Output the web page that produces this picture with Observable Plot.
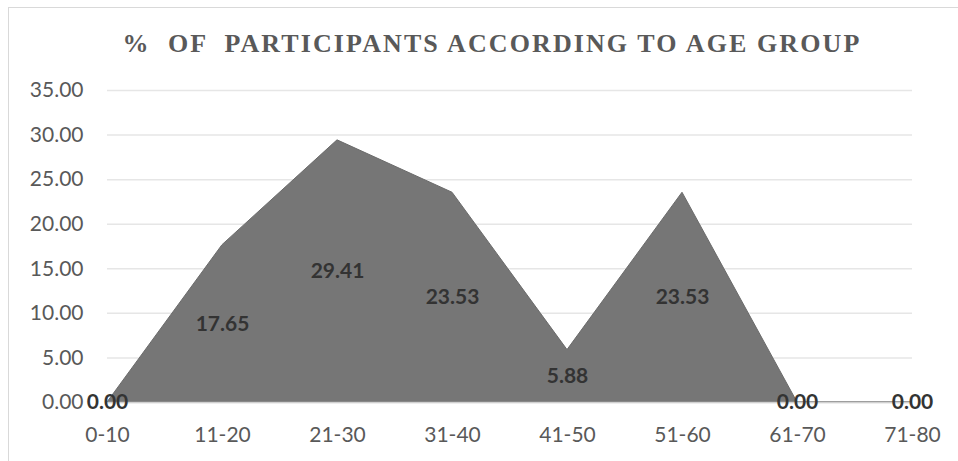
<!DOCTYPE html>
<html>
<head>
<meta charset="utf-8">
<script src="https://cdn.jsdelivr.net/npm/d3@7"></script>
<script src="https://cdn.jsdelivr.net/npm/@observablehq/plot@0.6"></script>
<style>
  html, body { margin: 0; padding: 0; background: #fff; overflow: hidden; }
  #wrap { position: relative; width: 958px; height: 461px; }
  #frame { position: absolute; left: 8px; top: 7px; width: 980px; height: 480px; border: 1px solid #d9d9d9; pointer-events: none; }
  #title { position: absolute; left: 0; top: 29px; width: 984px; text-align: center; font-family: "Liberation Serif", "Times New Roman", serif; font-weight: bold; font-size: 26px; letter-spacing: 2.1px; color: #595959; white-space: pre; }
  #chart { position: absolute; left: 0; top: 0; }
</style>
</head>
<body>
<div id="wrap">
  <div id="frame"></div>
  <div id="title">%  OF  PARTICIPANTS ACCORDING TO AGE GROUP</div>
  <div id="chart"></div>
</div>
<script>
const categories = ["0-10", "11-20", "21-30", "31-40", "41-50", "51-60", "61-70", "71-80"];
const values = [0.00, 17.65, 29.41, 23.53, 5.88, 23.53, 0.00, 0.00];
const yTicks = [0, 5, 10, 15, 20, 25, 30, 35];

const data = categories.map((c, i) => ({cat: c, value: values[i]}));

const chart = Plot.plot({
  width: 958,
  height: 461,
  marginTop: 90,
  marginBottom: 59,
  marginLeft: 107,
  marginRight: 46,
  style: {fontFamily: "Lato, 'Open Sans', sans-serif", fontSize: "21px", color: "#595959", background: "transparent"},
  x: {type: "point", domain: categories, padding: 0, label: null},
  y: {domain: [0, 35], label: null},
  marks: [
    Plot.gridY(yTicks, {stroke: "#e6e6e6", strokeOpacity: 1, strokeWidth: 1.5}),
    Plot.areaY(data, {x: "cat", y: "value", fill: "#767676", stroke: "#6b6b6b", strokeWidth: 1}),
    Plot.ruleY([0], {stroke: "#d0d0d0", strokeWidth: 1.5}),
    Plot.text(data, {x: "cat", y: d => d.value / 2, text: d => d.value.toFixed(2), fontWeight: "bold", fill: "#333333", fontSize: 21}),
    Plot.axisY(yTicks, {tickSize: 0, tickPadding: 24, tickFormat: d3.format(".2f"), label: null, fill: "#595959"}),
    Plot.axisX({tickSize: 0, tickPadding: 25, label: null, fill: "#595959"})
  ]
});
document.getElementById("chart").appendChild(chart);
</script>
</body>
</html>
